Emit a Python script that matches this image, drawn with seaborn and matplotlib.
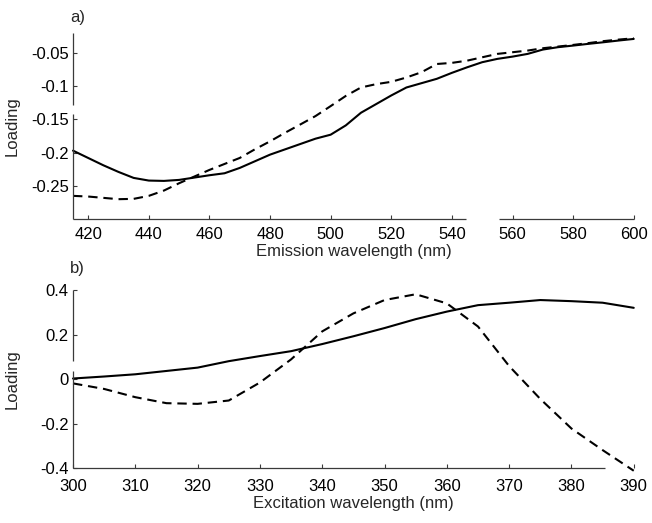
import numpy as np
import pandas as pd
import matplotlib
matplotlib.use("Agg")
import matplotlib.pyplot as plt
import seaborn as sns

# ---------------- data ----------------
em_wl = [415, 420, 425, 430, 435, 440, 445, 450, 455, 460, 465, 470, 475, 480, 485,
         490, 495, 500, 505, 510, 515, 520, 525, 530, 535, 540, 545, 550, 555, 560,
         565, 570, 575, 580, 585, 590, 595, 600]
em_comp1 = [-0.197, -0.208, -0.219, -0.229, -0.238, -0.242, -0.2425, -0.241, -0.2375, -0.234,
            -0.231, -0.223, -0.213, -0.203, -0.195, -0.187, -0.179, -0.173, -0.159, -0.140,
            -0.127, -0.114, -0.102, -0.0955, -0.089, -0.080, -0.0717, -0.064, -0.059, -0.0556,
            -0.0515, -0.045, -0.0414, -0.039, -0.0364, -0.034, -0.0314, -0.029]
em_comp2 = [-0.265, -0.266, -0.268, -0.270, -0.2695, -0.265, -0.257, -0.246, -0.236, -0.226,
            -0.217, -0.208, -0.195, -0.183, -0.170, -0.1576, -0.145, -0.130, -0.1147, -0.102,
            -0.097, -0.0935, -0.087, -0.079, -0.0667, -0.065, -0.0617, -0.0566, -0.0515, -0.049,
            -0.0465, -0.043, -0.0405, -0.038, -0.0353, -0.0323, -0.030, -0.028]

ex_wl = [300, 305, 310, 315, 320, 325, 330, 335, 340, 345, 350, 355, 360, 365, 370,
         375, 380, 385, 390]
ex_comp1 = [0.003, 0.012, 0.022, 0.037, 0.052, 0.081, 0.104, 0.126, 0.158, 0.193, 0.230,
            0.270, 0.304, 0.333, 0.344, 0.356, 0.351, 0.344, 0.321]
ex_comp2 = [-0.019, -0.044, -0.081, -0.108, -0.111, -0.096, -0.015, 0.089, 0.215, 0.296,
            0.356, 0.382, 0.341, 0.237, 0.059, -0.089, -0.222, -0.319, -0.412]

em_ticks = [420, 440, 460, 480, 500, 520, 540, 560, 580, 600]
em_yticks = [-0.25, -0.2, -0.15, -0.1, -0.05]
em_yticklabels = ["-0.25", "-0.2", "-0.15", "-0.1", "-0.05"]
ex_ticks = [300, 310, 320, 330, 340, 350, 360, 370, 380, 390]
ex_yticks = [-0.4, -0.2, 0, 0.2, 0.4]
ex_yticklabels = ["-0.4", "-0.2", "0", "0.2", "0.4"]

em_df = pd.DataFrame({
    "wl": em_wl * 2,
    "loading": em_comp1 + em_comp2,
    "comp": ["1"] * len(em_wl) + ["2"] * len(em_wl),
})
ex_df = pd.DataFrame({
    "wl": ex_wl * 2,
    "loading": ex_comp1 + ex_comp2,
    "comp": ["1"] * len(ex_wl) + ["2"] * len(ex_wl),
})

# ---------------- style ----------------
sns.set_theme(style="white")
plt.rcParams["font.family"] = ["Liberation Sans", "DejaVu Sans"]
plt.rcParams["axes.unicode_minus"] = False

FS = 12

fig = plt.figure(figsize=(6.52, 5.23), dpi=100)
ax1 = fig.add_axes([0.112, 0.581, 0.860, 0.356])
ax2 = fig.add_axes([0.112, 0.105, 0.860, 0.340])

dash_map = {"1": "", "2": (4.5, 2.8)}
axis_col = "#3a3a3a"

def style_axis(ax, xlim, ylim, xticks, yticks, yticklabels, xlabel,
               xsegs, ysegs, xpad, xlabelpad):
    ax.set_xlim(*xlim)
    ax.set_ylim(*ylim)
    ax.set_xticks(xticks)
    ax.set_xticklabels([str(t) for t in xticks])
    ax.set_yticks(yticks)
    ax.set_yticklabels(yticklabels)
    for s in ax.spines.values():
        s.set_visible(False)
    ax.tick_params(axis="both", direction="in", length=3, width=0.8,
                   color=axis_col, labelsize=FS, labelcolor="black",
                   bottom=True, left=True, top=False, right=False)
    ax.tick_params(axis="x", pad=xpad)
    ax.tick_params(axis="y", pad=3)
    ax.set_xlabel(xlabel, fontsize=FS, labelpad=xlabelpad)
    ax.set_ylabel("Loading", fontsize=FS)
    ax.yaxis.set_label_coords(-0.095, 0.5)
    # broken axis lines (as in the original scanned figure)
    for a, b in xsegs:
        ax.plot([a, b], [0, 0], transform=ax.get_xaxis_transform(),
                color=axis_col, lw=0.9, clip_on=False, solid_capstyle="butt")
    for a, b in ysegs:
        ax.plot([0, 0], [a, b], transform=ax.get_yaxis_transform(),
                color=axis_col, lw=0.9, clip_on=False, solid_capstyle="butt")

sns.lineplot(data=em_df, x="wl", y="loading", style="comp", dashes=dash_map,
             color="black", linewidth=1.5, legend=False, ax=ax1, clip_on=False)
style_axis(ax1, (415, 600), (-0.30, -0.02), em_ticks, em_yticks, em_yticklabels,
           "Emission wavelength (nm)",
           xsegs=[(415, 544.8), (555.6, 600)],
           ysegs=[(-0.30, -0.142), (-0.129, -0.02)],
           xpad=6, xlabelpad=1)

sns.lineplot(data=ex_df, x="wl", y="loading", style="comp", dashes=dash_map,
             color="black", linewidth=1.5, legend=False, ax=ax2, clip_on=False)
style_axis(ax2, (300, 390), (-0.4, 0.4), ex_ticks, ex_yticks, ex_yticklabels,
           "Excitation wavelength (nm)",
           xsegs=[(300, 385.4)],
           ysegs=[(-0.4, 0.037), (0.081, 0.4)],
           xpad=8, xlabelpad=1)

fig.text(0.107, 0.952, "a)", fontsize=FS, ha="left", va="bottom")
fig.text(0.107, 0.472, "b)", fontsize=FS, ha="left", va="bottom")

fig.savefig("out.png", dpi=100)
